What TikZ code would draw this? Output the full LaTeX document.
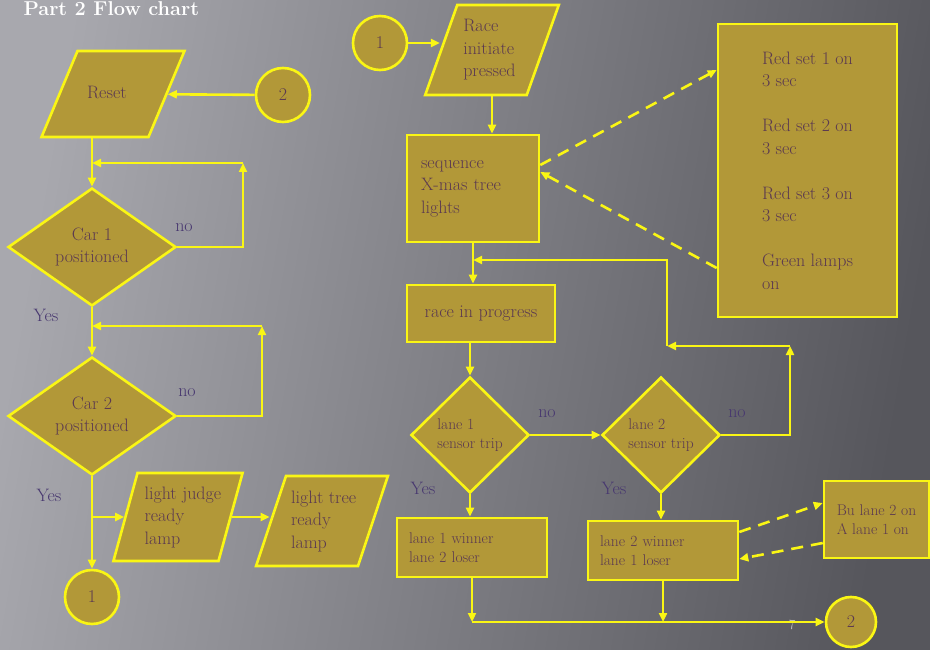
\documentclass[tikz,border=0pt]{standalone}
\usepackage{tikz}
\usetikzlibrary{shapes.geometric, arrows.meta, positioning, calc}
\definecolor{slidelight}{RGB}{168,168,174}
\definecolor{slidedark}{RGB}{86,86,92}
\definecolor{ochre}{RGB}{178,152,56}
\definecolor{lemon}{RGB}{250,246,20}
\definecolor{plum}{RGB}{92,58,80}
\definecolor{violet}{RGB}{72,56,112}
\newcommand{\ioblock}[4]{\parbox[c][#1][c]{#2}{\hspace*{#3}\begin{tabular}{@{}l@{}}#4\end{tabular}}}

\begin{document}
\begin{tikzpicture}[
    x=1pt, y=-1pt,
    base/.style={draw=lemon, line width=2.6pt, fill=ochre, text=plum, font=\fontsize{18}{22.5}\selectfont, align=left},
    small/.style={font=\fontsize{15.5}{19}\selectfont},
    box/.style={base, rectangle, inner sep=0pt},
    io/.style={base, trapezium, inner sep=0pt},
    decide/.style={base, diamond, minimum width=168pt, minimum height=118pt, inner sep=0pt, align=center},
    test/.style={base, small, diamond, minimum width=118pt, minimum height=116pt, inner sep=0pt},
    conn/.style={base, circle, minimum size=54pt, inner sep=0pt, align=center},
    lbl/.style={text=violet, font=\fontsize{18}{22}\selectfont, inner sep=0pt},
    arr/.style={draw=lemon, line width=2.6pt, -{Triangle[length=9pt, width=8pt]}},
    dasharr/.style={arr, dash pattern=on 12pt off 8pt}
]
\useasboundingbox (0,0) rectangle (930,650);
\shade[left color=slidelight, right color=slidedark, shading angle=80] (0,0) rectangle (930,650);
\node[anchor=base west, text=white, font=\fontsize{20}{24}\selectfont\bfseries] (title) at (20,15.5) {Part 2 Flow chart};

\node[io, trapezium left angle=67.3, trapezium right angle=112.7] (reset) at (113,94) {\ioblock{86pt}{71pt}{9.5pt}{Reset}};
\node[conn] (two) at (283,95) {2};
\node[decide] (car1) at (92,247) {Car 1\\positioned};
\node[decide] (car2) at (92,416) {Car 2\\positioned};
\node[conn] (one) at (92,597) {1};
\node[io, trapezium left angle=74.7, trapezium right angle=105.3] (judge) at (178,517) {\ioblock{88pt}{81pt}{7pt}{light judge\\ready\\lamp}};
\node[io, trapezium left angle=71.6, trapezium right angle=108.4] (tree) at (322,521) {\ioblock{90pt}{72pt}{5pt}{light tree\\ready\\lamp}};

\node[conn] (start) at (380,43) {1};
\node[io, trapezium left angle=70.4, trapezium right angle=109.6] (race) at (492,50) {\ioblock{90pt}{69.5pt}{6pt}{Race\\initiate\\pressed}};
\node[box, minimum width=132pt, minimum height=107pt, text width=104pt] (seq) at (473,188.5) {sequence\\X-mas tree\\lights};
\node[box, minimum width=179pt, minimum height=293pt] (lamps) at (807.5,170.5) {Red set 1 on\\3 sec\\[22.5pt]Red set 2 on\\3 sec\\[22.5pt]Red set 3 on\\3 sec\\[22.5pt]Green lamps\\on};
\node[box, minimum width=148pt, minimum height=57pt] (prog) at (481,313.5) {race in progress};
\node[test] (lane1) at (470,435) {lane 1\\sensor trip};
\node[test] (lane2) at (661,435) {lane 2\\sensor trip};
\node[box, small, minimum width=150pt, minimum height=59pt, text width=126pt] (win1) at (472,547.5) {lane 1 winner\\lane 2 loser};
\node[box, small, minimum width=150pt, minimum height=59pt, text width=126pt] (win2) at (663,550.5) {lane 2 winner\\lane 1 loser};
\node[box, small, minimum width=105pt, minimum height=77pt] (bu) at (876.5,519.5) {Bu lane 2 on\\A lane 1 on};
\node[conn, minimum size=50pt] (back) at (851,622) {2};
\node[text=gray!55, font=\fontsize{14}{16}\selectfont] (pagenum) at (792,625) {7};

\node[lbl] (no1) at (184,228) {no};
\node[lbl] (yes1) at (46,315) {Yes};
\node[lbl] (no2) at (187,393) {no};
\node[lbl] (yes2) at (49,495) {Yes};
\node[lbl] (no3) at (547,414) {no};
\node[lbl] (no4) at (737,414) {no};
\node[lbl] (yes3) at (423,488) {Yes};
\node[lbl] (yes4) at (614,488) {Yes};

\coordinate (up1) at (243,163);
\coordinate (up2) at (262,326);
\coordinate (turn) at (790,346);
\coordinate (mid) at (667,346);
\coordinate (top) at (667,260);

\draw[arr] (two) -- (reset);
\draw[arr] (reset.south -| car1.north) -- (car1.north);
\draw[arr] (car1.east) -| (up1);
\draw[arr] (up1) -- (up1 -| car1.north);
\draw[arr] (car1.south) -- (car2.north);
\draw[arr] (car2.east) -| (up2);
\draw[arr] (up2) -- (up2 -| car2.north);
\draw[arr] (car2.south) -- (one.north);
\draw[arr] (car2.south |- judge.west) -- (judge.west);
\draw[arr] (judge.east) -- (judge.east -| tree.west);

\draw[arr] (start.east) -- (start.east -| race.west);
\draw[arr] (race.south) -- (race.south |- seq.north);
\draw[dasharr] ([yshift=23.5pt]seq.east) -- ([yshift=100.5pt]lamps.west);
\draw[dasharr] ([yshift=-97.5pt]lamps.west) -- ([yshift=16.5pt]seq.east);
\draw[arr] (seq.south) -- (seq.south |- prog.north);
\draw[arr] (prog.south -| lane1.north) -- (lane1.north);
\draw[arr] (lane1.east) -- (lane2.west);
\draw[arr] (lane1.south) -- (lane1.south |- win1.north);
\draw[arr] (lane2.south) -- (lane2.south |- win2.north);
\draw[arr] (lane2.east) -| (turn);
\draw[arr] (turn) -- (mid);
\draw[arr] (mid) -- (top) -- (top -| seq.south);
\draw[dasharr] ([yshift=18.5pt]win2.east) -- ([yshift=16.5pt]bu.west);
\draw[dasharr] ([yshift=-23.5pt]bu.west) -- ([yshift=-8.5pt]win2.east);
\draw[arr] (win1.south) -- (win1.south |- back.west);
\draw[arr] (win2.south) -- (win2.south |- back.west);
\draw[arr] (win1.south |- back.west) -- (back.west);
\end{tikzpicture}
\end{document}
